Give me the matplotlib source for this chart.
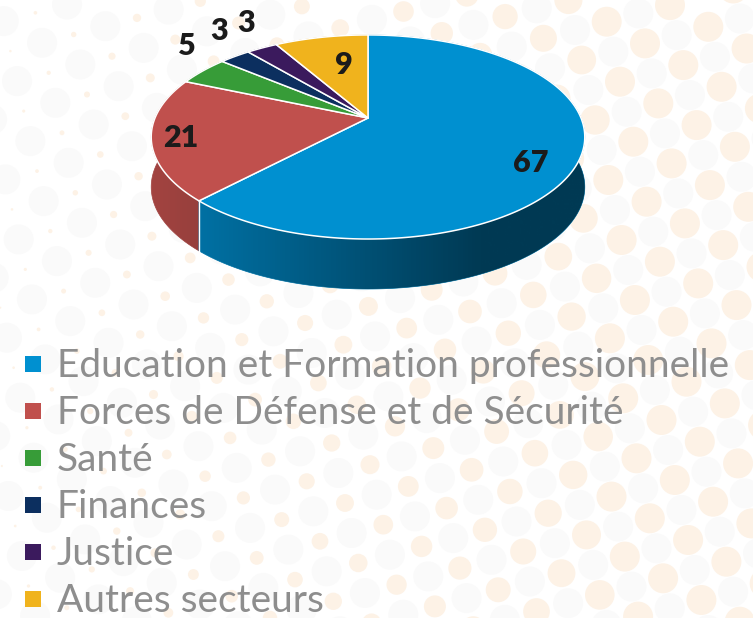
import numpy as np
import matplotlib.pyplot as plt
import matplotlib.colors as mcolors
from matplotlib.patches import Polygon, Rectangle, Circle
from matplotlib.collections import PatchCollection

# data
sectors = ["Education et Formation professionnelle",
           "Forces de Défense et de Sécurité",
           "Santé",
           "Finances",
           "Justice",
           "Autres secteurs"]
values = [67, 21, 5, 3, 3, 9]
colors = ["#0090d0", "#c0504d", "#379c38", "#0c2f5f", "#3b1a5d", "#f0b31d"]

# pie geometry (pixels, y down)
CX, CY = 368, 118
RX, RY, K = 213, 98.5, 0.186
DEPTH = 50

def proj(theta, r=1.0):
    # angle clockwise from 12 o'clock, simple perspective of the disc
    t = np.radians(theta)
    u = r*np.cos(t)
    v = r*np.sin(t)
    w = 1 + K*u
    return CX + RX*v/w, CY - RY*u/w

def arc(t0, t1, step=0.5):
    th = np.append(np.arange(t0, t1, step), t1)
    return [proj(t) for t in th]

angles = np.concatenate([[0], np.cumsum(values)]) / sum(values) * 360

fig = plt.figure(figsize=(7.53, 6.18), dpi=100)
ax = fig.add_axes([0, 0, 1, 1])
ax.set_xlim(0, 753)
ax.set_ylim(618, 0)
ax.axis("off")

# background dots
o = np.array([606.7, 21.7])
a = np.array([38.3, 21.7])
b = np.array([-25.0, 38.3])
dots = []
grey = []
for i in range(-40, 40):
    for j in range(-40, 40):
        p = o + i*a + j*b
        if -30 < p[0] < 783 and -30 < p[1] < 648:
            d = min(2 + 0.046*p[0], 30)
            dots.append(Circle(p, d/2))
            grey.append(Circle(p + (a + b)/2, 15))
ax.add_collection(PatchCollection(grey, facecolor="#fafafa", edgecolor="none", zorder=0))
ax.add_collection(PatchCollection(dots, facecolor="#fdf2e6", edgecolor="none", zorder=1))

# side of the pie, one polygon per slice, far slices first
mids = [(angles[k] + angles[k+1])/2 for k in range(len(values))]
for k in sorted(range(len(values)), key=lambda k: -np.cos(np.radians(mids[k]))):
    top = arc(angles[k], angles[k+1])
    bot = [(x, y + DEPTH) for x, y in top[::-1]]
    base = np.array(mcolors.to_rgb(colors[k]))*0.85
    ax.add_patch(Polygon(top + bot, closed=True, facecolor=base, edgecolor=base,
                         lw=0.5, zorder=3))

# darkening gradient across the side
top = arc(80, 280)
bot = [(x, y + DEPTH) for x, y in top[::-1]]
clip = Polygon(top + bot, closed=True, transform=ax.transData)
xs = np.linspace(0, 753, 400)
f = 0.85 - 0.45*np.clip((xs - 150)/330, 0, 1)
grad = np.zeros((2, len(xs), 4))
grad[..., 3] = 1 - f/0.85
im = ax.imshow(grad, extent=(0, 753, 618, 0), aspect="auto", zorder=3.5,
               interpolation="bilinear")
im.set_clip_path(clip)
ax.set_xlim(0, 753)
ax.set_ylim(618, 0)

for t in angles[:-1]:
    if np.cos(np.radians(t)) < 0:
        x, y = proj(t)
        ax.plot([x, x], [y, y + DEPTH], color="white", lw=1, zorder=4)

# top face
for k in range(len(values)):
    pts = [(CX, CY)] + arc(angles[k], angles[k+1])
    ax.add_patch(Polygon(pts, closed=True, facecolor=colors[k], edgecolor="white",
                         lw=1.1, joinstyle="round", zorder=5))

# value labels
inside = {0: (0.8, -5, 14), 1: (0.87, 0, 2), 5: (0.62, 7, 0)}
for k, val in enumerate(values):
    if k in inside:
        r, dx, dy = inside[k]
        x, y = proj(mids[k], r)
        x, y = x + dx, y + dy
    else:
        x, y = proj(mids[k])
        x, y = x - 16, y - 25
    ax.text(x, y, str(val), ha="center", va="center", fontsize=22,
            fontweight="heavy", family="Lato", color="#1b1b1b", zorder=6)

# legend
for i, (name, col) in enumerate(zip(sectors, colors)):
    yb = 377 + 47*i
    ax.add_patch(Rectangle((25, yb - 21), 16, 16, facecolor=col, edgecolor="none", zorder=6))
    ax.text(57, yb, name, ha="left", va="baseline", fontsize=28,
            family="Lato", color="#8e8e8e", zorder=6)

fig.savefig("out.png", dpi=100)
